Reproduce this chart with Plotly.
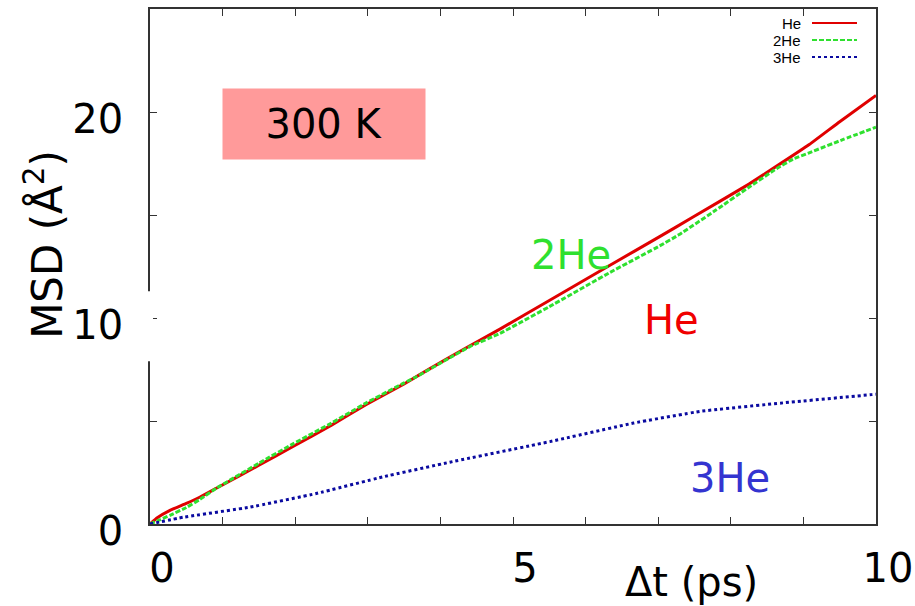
import plotly.graph_objects as go

# Mean square displacement of He clusters at 300 K
t_he = [0, 0.1, 0.275, 0.5, 0.69, 0.92, 1.5, 1.97, 2.5, 2.98, 3.5, 3.85,
        4.4, 4.82, 5.5, 6.33, 7.02, 7.48, 8.25, 8.7, 9.08, 9.5, 10]
msd_he = [0, 0.3, 0.66, 1.0, 1.31, 1.75, 2.85, 3.76, 4.8, 5.8, 6.8, 7.53,
          8.64, 9.46, 10.85, 12.55, 13.95, 14.9, 16.5, 17.53, 18.42, 19.53, 20.8]

t_2he = [0, 0.1, 0.275, 0.5, 0.69, 0.92, 1.5, 1.97, 2.5, 2.98, 3.5, 3.67,
         4.13, 4.4, 4.82, 5.5, 6.33, 7.02, 7.29, 7.8, 8.25, 8.63, 8.86, 9.08,
         9.55, 10]
msd_2he = [0, 0.15, 0.42, 0.8, 1.2, 1.75, 2.95, 3.89, 4.9, 5.88, 6.85, 7.15,
           8.07, 8.6, 9.25, 10.55, 12.2, 13.5, 14.05, 15.25, 16.35, 17.25,
           17.72, 18.02, 18.67, 19.26]

t_3he = [0, 0.46, 1.38, 2.29, 3.21, 4.13, 5.51, 6.66, 7.58, 8.72, 9.94, 10]
msd_3he = [0, 0.33, 0.82, 1.48, 2.29, 3.0, 4.0, 4.9, 5.47, 5.88, 6.28, 6.3]

series_names = ["He", "2He", "3He"]
x_tickvals = [0, 5, 10]
x_ticktext = ["0", "5", "10"]
y_tickvals = [0, 10, 20]
y_ticktext = ["0", "10", "20"]
x_title = "Δt (ps)"
y_title = "MSD (Å<sup>2</sup>)"
temperature_label = "300 K"

FONT = "Comic Sans MS, DejaVu Sans, sans-serif"
RED = "#e00000"
GREEN = "#2fe02f"
BLUE = "#0a0aa0"

styles = {
    "He": dict(color=RED, width=3, dash="solid"),
    "2He": dict(color=GREEN, width=3, dash="5px,2px"),
    "3He": dict(color=BLUE, width=3, dash="3px,3px"),
}

fig = go.Figure()
for name, xs, ys in zip(series_names, [t_he, t_2he, t_3he],
                        [msd_he, msd_2he, msd_3he]):
    fig.add_trace(go.Scatter(x=xs, y=ys, mode="lines", name=name,
                             line=dict(shape="spline", smoothing=0.3,
                                       **styles[name]),
                             showlegend=False))

axis_common = dict(showline=True, mirror="ticks", linecolor="#333",
                   linewidth=1.5, ticks="inside", ticklen=7, tickwidth=1.2,
                   tickcolor="#333", showgrid=False, zeroline=False,
                   automargin=False,
                   tickfont=dict(family=FONT, size=40, color="black"))
minor_common = dict(ticks="inside", ticklen=7, tickwidth=1.2,
                    tickcolor="#333", showgrid=False)

fig.update_xaxes(range=[0, 10], tickmode="array", tickvals=x_tickvals,
                 ticktext=x_ticktext, ticklabelstandoff=8,
                 ticklabelshift=12, minor=dict(dtick=1, **minor_common),
                 **axis_common)
fig.update_yaxes(range=[0, 25], tickmode="array", tickvals=y_tickvals,
                 ticktext=y_ticktext, ticklabelstandoff=17,
                 ticklabelshift=7, minor=dict(dtick=5, **minor_common),
                 **axis_common)

# Axis titles
fig.add_annotation(x=0.746, y=0, xref="paper", yref="paper", yshift=-58,
                   xanchor="center", yanchor="middle", text=x_title,
                   showarrow=False,
                   font=dict(family=FONT, size=40, color="black"))
fig.add_annotation(x=0, y=0.542, xref="paper", yref="paper", xshift=-105,
                   xanchor="center", yanchor="middle", text=y_title,
                   textangle=-90, showarrow=False,
                   font=dict(family=FONT, size=42, color="black"))

# Temperature tag
fig.add_annotation(x=2.4, y=19.4, xref="x", yref="y", text=temperature_label,
                   showarrow=False, bgcolor="#ff9a9a", width=202, height=70,
                   borderpad=0, font=dict(family=FONT, size=40, color="black"))

# Series names written beside the curves
inline_labels = [
    ("2He", 5.8, 13.05, GREEN),
    ("He", 7.18, 9.9, "#f00000"),
    ("3He", 7.99, 2.25, "#3434d0"),
]
for text, x, y, color in inline_labels:
    fig.add_annotation(x=x, y=y, xref="x", yref="y", text=text,
                       showarrow=False,
                       font=dict(family=FONT, size=40, color=color))

# Key in the top-right corner: name, then line sample
key_rows = [-14, -31, -48]
for name, dy in zip(series_names, key_rows):
    fig.add_annotation(x=1, y=1, xref="paper", yref="paper", xshift=-73,
                       yshift=dy, xanchor="right", yanchor="middle",
                       text=name, showarrow=False,
                       font=dict(family="Liberation Sans, Arial", size=15,
                                 color="black"))
    st = styles[name]
    fig.add_shape(type="line", xref="paper", yref="paper",
                  xsizemode="pixel", ysizemode="pixel", xanchor=1, yanchor=1,
                  x0=-64, x1=-19, y0=dy, y1=dy,
                  line=dict(color=st["color"], width=2, dash=st["dash"]))

# White patch behind the "10" label, interrupting the left frame line
fig.add_shape(type="rect", xref="paper", yref="y", xsizemode="pixel",
              xanchor=0, x0=-12, x1=3, y0=7.9, y1=11.3,
              fillcolor="white", line=dict(width=0), layer="above")

fig.update_layout(width=915, height=606,
                  margin=dict(l=150, r=39, t=9, b=82),
                  paper_bgcolor="white", plot_bgcolor="white",
                  font=dict(family=FONT))

fig.write_html("out.html")
